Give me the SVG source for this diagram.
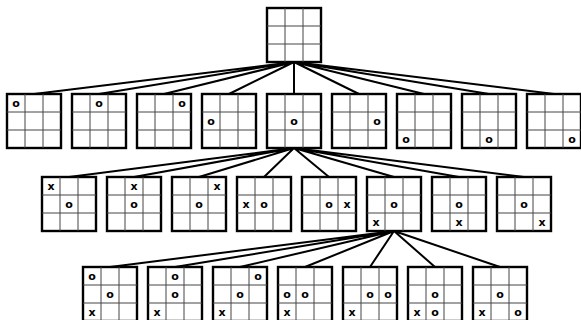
<svg xmlns="http://www.w3.org/2000/svg" xmlns:xlink="http://www.w3.org/1999/xlink" width="581" height="320" viewBox="0 0 581 320">
<style>
.edge{stroke:#000;stroke-width:2;fill:none}
.frame{fill:#fff;stroke:#000;stroke-width:2.4}
.grid{stroke:#444;stroke-width:1}
.m{font-family:"DejaVu Sans",sans-serif;font-weight:bold;font-size:11px;text-anchor:middle;dominant-baseline:central;fill:#000}
</style>
<defs>
<g id="board">
<rect class="frame" x="0" y="0" width="54" height="54"/>
<path class="grid" d="M18 0V54M36 0V54M0 18H54M0 36H54"/>
</g>
</defs>
<rect width="581" height="320" fill="#fff"/>
<g id="connectors">
<path class="edge" d="M294 62L34 94M294 62L99 94M294 62L164 94M294 62L229 94M294 62L294 94M294 62L359 94M294 62L424 94M294 62L489 94M294 62L554 94"/>
<path class="edge" d="M294 148L69 177M294 148L134 177M294 148L199 177M294 148L264 177M294 148L329 177M294 148L394 177M294 148L459 177M294 148L524 177"/>
<path class="edge" d="M394 231L110 267M394 231L175 267M394 231L240 267M394 231L305 267M394 231L370 267M394 231L435 267M394 231L500 267"/>
</g>
<g id="root"><use xlink:href="#board" x="267" y="8"/></g>
<g id="l1-1"><use xlink:href="#board" x="7" y="94"/><text class="m" x="16" y="103">o</text></g>
<g id="l1-2"><use xlink:href="#board" x="72" y="94"/><text class="m" x="99" y="103">o</text></g>
<g id="l1-3"><use xlink:href="#board" x="137" y="94"/><text class="m" x="182" y="103">o</text></g>
<g id="l1-4"><use xlink:href="#board" x="202" y="94"/><text class="m" x="211" y="121">o</text></g>
<g id="l1-5"><use xlink:href="#board" x="267" y="94"/><text class="m" x="294" y="121">o</text></g>
<g id="l1-6"><use xlink:href="#board" x="332" y="94"/><text class="m" x="377" y="121">o</text></g>
<g id="l1-7"><use xlink:href="#board" x="397" y="94"/><text class="m" x="406" y="139">o</text></g>
<g id="l1-8"><use xlink:href="#board" x="462" y="94"/><text class="m" x="489" y="139">o</text></g>
<g id="l1-9"><use xlink:href="#board" x="527" y="94"/><text class="m" x="572" y="139">o</text></g>
<g id="l2-1"><use xlink:href="#board" x="42" y="177"/><text class="m" x="51" y="186">x</text><text class="m" x="69" y="204">o</text></g>
<g id="l2-2"><use xlink:href="#board" x="107" y="177"/><text class="m" x="134" y="186">x</text><text class="m" x="134" y="204">o</text></g>
<g id="l2-3"><use xlink:href="#board" x="172" y="177"/><text class="m" x="217" y="186">x</text><text class="m" x="199" y="204">o</text></g>
<g id="l2-4"><use xlink:href="#board" x="237" y="177"/><text class="m" x="246" y="204">x</text><text class="m" x="264" y="204">o</text></g>
<g id="l2-5"><use xlink:href="#board" x="302" y="177"/><text class="m" x="329" y="204">o</text><text class="m" x="347" y="204">x</text></g>
<g id="l2-6"><use xlink:href="#board" x="367" y="177"/><text class="m" x="394" y="204">o</text><text class="m" x="376" y="222">x</text></g>
<g id="l2-7"><use xlink:href="#board" x="432" y="177"/><text class="m" x="459" y="204">o</text><text class="m" x="459" y="222">x</text></g>
<g id="l2-8"><use xlink:href="#board" x="497" y="177"/><text class="m" x="524" y="204">o</text><text class="m" x="542" y="222">x</text></g>
<g id="l3-1"><use xlink:href="#board" x="83" y="267"/><text class="m" x="92" y="276">o</text><text class="m" x="110" y="294">o</text><text class="m" x="92" y="312">x</text></g>
<g id="l3-2"><use xlink:href="#board" x="148" y="267"/><text class="m" x="175" y="276">o</text><text class="m" x="175" y="294">o</text><text class="m" x="157" y="312">x</text></g>
<g id="l3-3"><use xlink:href="#board" x="213" y="267"/><text class="m" x="258" y="276">o</text><text class="m" x="240" y="294">o</text><text class="m" x="222" y="312">x</text></g>
<g id="l3-4"><use xlink:href="#board" x="278" y="267"/><text class="m" x="287" y="294">o</text><text class="m" x="305" y="294">o</text><text class="m" x="287" y="312">x</text></g>
<g id="l3-5"><use xlink:href="#board" x="343" y="267"/><text class="m" x="370" y="294">o</text><text class="m" x="388" y="294">o</text><text class="m" x="352" y="312">x</text></g>
<g id="l3-6"><use xlink:href="#board" x="408" y="267"/><text class="m" x="435" y="294">o</text><text class="m" x="417" y="312">x</text><text class="m" x="435" y="312">o</text></g>
<g id="l3-7"><use xlink:href="#board" x="473" y="267"/><text class="m" x="500" y="294">o</text><text class="m" x="482" y="312">x</text><text class="m" x="518" y="312">o</text></g>
</svg>
